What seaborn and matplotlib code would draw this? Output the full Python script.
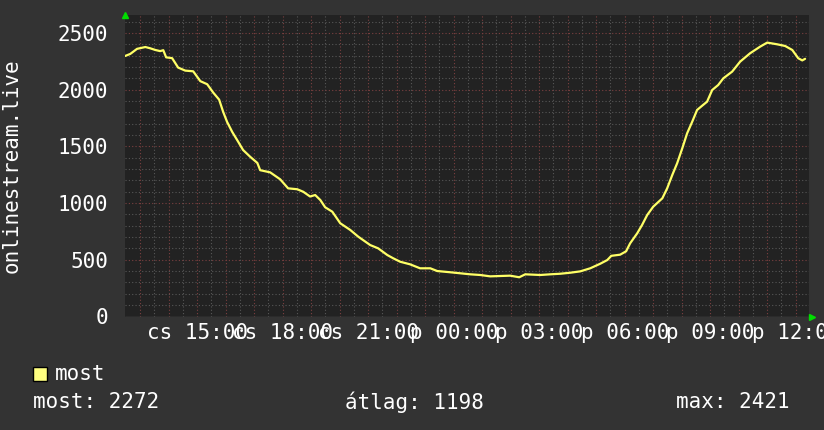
import numpy as np
import pandas as pd
import seaborn as sns
import matplotlib.pyplot as plt

# time of day in hours (24 = midnight Thursday->Friday)
hours = [12.47, 12.65, 12.89, 13.18, 13.35, 13.53, 13.70, 13.81, 13.91, 14.12,
         14.33, 14.58, 14.86, 15.11, 15.35, 15.56, 15.77, 15.91, 16.05, 16.23,
         16.44, 16.61, 16.86, 17.11, 17.21, 17.56, 17.91, 18.19, 18.51, 18.72,
         18.96, 19.14, 19.32, 19.49, 19.74, 20.02, 20.37, 20.65, 21.07, 21.35,
         21.67, 21.88, 22.12, 22.47, 22.82, 23.18, 23.42, 23.88, 24.23, 24.58,
         24.93, 25.28, 25.63, 25.98, 26.30, 26.51, 27.04, 27.39, 27.74, 28.09,
         28.44, 28.79, 29.14, 29.39, 29.53, 29.84, 30.05, 30.19, 30.44, 30.61,
         30.79, 31.00, 31.32, 31.49, 31.67, 31.84, 32.02, 32.19, 32.37, 32.54,
         32.72, 32.89, 33.07, 33.28, 33.46, 33.77, 34.05, 34.40, 34.75, 35.00,
         35.35, 35.63, 35.88, 36.09, 36.23, 36.33]
most = [2297, 2315, 2360, 2376, 2365, 2350, 2340, 2348, 2285, 2278,
        2195, 2168, 2162, 2075, 2048, 1975, 1912, 1805, 1715, 1627,
        1540, 1468, 1408, 1354, 1290, 1271, 1210, 1130, 1122, 1100,
        1058, 1071, 1027, 963, 924, 822, 763, 704, 630, 601,
        542, 513, 483, 460, 425, 425, 401, 390, 381, 372,
        366, 354, 357, 360, 346, 372, 366, 372, 377, 386,
        398, 425, 465, 498, 535, 545, 575, 645, 734, 807,
        895, 968, 1042, 1130, 1248, 1351, 1483, 1615, 1718, 1821,
        1859, 1894, 1997, 2041, 2100, 2159, 2247, 2321, 2379, 2415,
        2400, 2385, 2350, 2277, 2258, 2272]

xtick_pos = [15, 18, 21, 24, 27, 30, 33, 36]
xtick_labels = ["cs 15:00", "cs 18:00", "cs 21:00", "p 00:00",
                "p 03:00", "p 06:00", "p 09:00", "p 12:00"]
ytick_pos = [0, 500, 1000, 1500, 2000, 2500]
stats = ["most: 2272", "átlag: 1198", "max: 2421"]

df = pd.DataFrame({"ora": hours, "most": most})

sns.set_style("dark")
plt.rcParams['font.family'] = ['DejaVu Sans Mono', 'DejaVu Sans']

bg = '#333333'
canvas = '#222222'
fig = plt.figure(figsize=(8.24, 4.30), dpi=100, facecolor=bg)
ax = fig.add_axes([125/824, 1 - 316.5/430, 684/824, 301.8/430])
ax.set_facecolor(canvas)

x0 = 12 + 28/60
ax.set_xlim(x0, x0 + 24)
ax.set_ylim(0, 2661)

# rrdtool style grid
for y in np.arange(100, 2700, 100):
    if y % 500:
        ax.axhline(y, color='#575757', lw=0.8, ls=(0, (1, 2)), zorder=1)
for x in np.arange(13, 36.6, 0.5):
    if x % 1:
        ax.axvline(x, color='#575757', lw=0.8, ls=(0, (1, 2)), zorder=1)
for y in np.arange(500, 2700, 500):
    ax.axhline(y, color='#7c4040', lw=0.8, ls=(0, (1, 2)), zorder=1.2)
for x in np.arange(13, 37, 1):
    ax.axvline(x, color='#7c4040', lw=0.8, ls=(0, (1, 2)), zorder=1.2)

sns.lineplot(data=df, x="ora", y="most", color='#ffff66', lw=1.6, ax=ax, zorder=3)

for s in ax.spines.values():
    s.set_visible(False)
ax.axhline(0, color='#555555', lw=1, zorder=2)

ax.set_xticks(xtick_pos)
ax.set_xticklabels(xtick_labels)
ax.set_xticks(np.arange(13, 37, 1), minor=True)
ax.set_yticks(ytick_pos)
ax.tick_params(axis='x', which='major', length=0, pad=5, labelsize=15, colors='white')
ax.tick_params(axis='x', which='minor', length=3, direction='inout', color='#a04848', width=1)
ax.tick_params(axis='y', which='major', length=0, pad=12, labelsize=15, colors='white')
ax.set_xlabel("")
ax.set_ylabel("onlinestream.live", fontsize=15, color='white', labelpad=26)

# arrows at axis ends
ax.plot([0], [1.0], marker='^', color='#00dd00', ms=5, transform=ax.transAxes,
        clip_on=False, zorder=5)
ax.plot([1.005], [0], marker='>', color='#00dd00', ms=5, transform=ax.transAxes,
        clip_on=False, zorder=5)

# legend and stats
fig.patches.append(plt.Rectangle((33/824, 1 - 381/430), 14/824, 14/430,
                                 transform=fig.transFigure, facecolor='#ffff80',
                                 edgecolor='black', lw=1))
fig.text(55/824, 1 - 374/430, "most", fontsize=15, color='white', va='center')
fig.text(33/824, 1 - 402/430, stats[0], fontsize=15, color='white', va='center')
fig.text(345/824, 1 - 402/430, stats[1], fontsize=15, color='white', va='center')
fig.text(676/824, 1 - 402/430, stats[2], fontsize=15, color='white', va='center')

fig.savefig("out.png", dpi=100, facecolor=bg)
